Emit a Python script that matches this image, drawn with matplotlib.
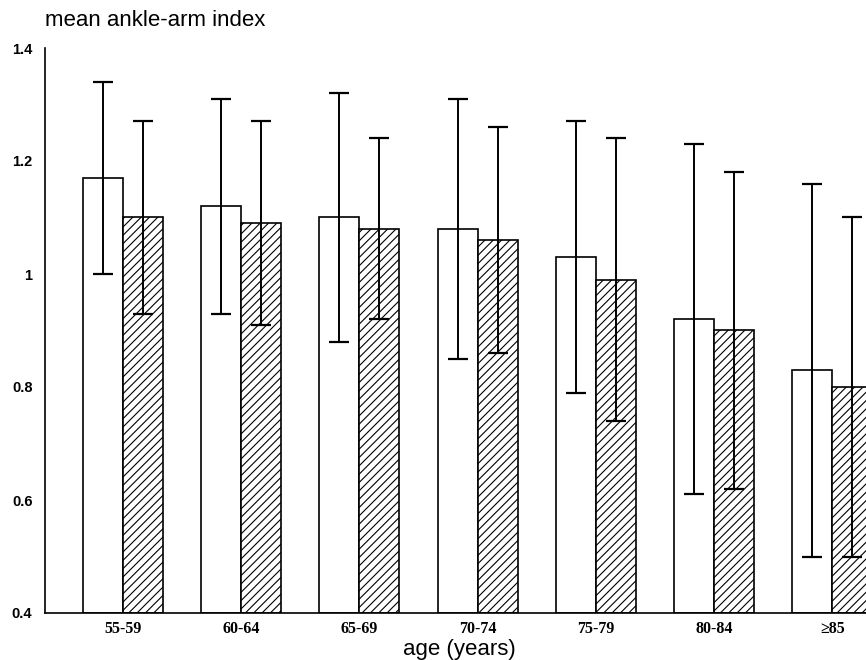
import numpy as np
from matplotlib import pyplot as plt

age_groups = ['55-59', '60-64', '65-69', '70-74', '75-79', '80-84', '\u226585']

# open bars
open_mean = [1.17, 1.12, 1.10, 1.08, 1.03, 0.92, 0.83]
open_low = [1.00, 0.93, 0.88, 0.85, 0.79, 0.61, 0.50]
open_high = [1.34, 1.31, 1.32, 1.31, 1.27, 1.23, 1.16]

# hatched bars
hatch_mean = [1.10, 1.09, 1.08, 1.06, 0.99, 0.90, 0.80]
hatch_low = [0.93, 0.91, 0.92, 0.86, 0.74, 0.62, 0.50]
hatch_high = [1.27, 1.27, 1.24, 1.26, 1.24, 1.18, 1.10]

y_ticks = [0.4, 0.6, 0.8, 1.0, 1.2, 1.4]
y_tick_labels = ['0.4', '0.6', '0.8', '1', '1.2', '1.4']

plt.rcParams['hatch.linewidth'] = 0.8

fig = plt.figure(figsize=(8.66, 6.6), dpi=100)
ax = fig.add_axes([45 / 866, 47 / 660, 1 - 45 / 866, 565 / 660])

x = np.arange(len(age_groups))
width = 0.338
base = 0.4


def draw_bars(xpos, mean, low, high, hatch):
    mean = np.array(mean)
    ax.bar(xpos, mean - base, width, bottom=base, color='white',
           edgecolor='black', linewidth=1.2, hatch=hatch, zorder=2)
    err = [mean - np.array(low), np.array(high) - mean]
    ax.errorbar(xpos, mean, yerr=err, fmt='none', ecolor='black',
                elinewidth=1.4, capsize=7, capthick=1.6, zorder=3)


draw_bars(x - width / 2, open_mean, open_low, open_high, None)
draw_bars(x + width / 2, hatch_mean, hatch_low, hatch_high, '////')

ax.set_xlim(-0.66, 6.286)
ax.set_ylim(0.4, 1.4)
ax.set_yticks(y_ticks)
ax.set_yticklabels(y_tick_labels, fontfamily='Liberation Sans',
                   fontweight='bold', fontsize=10.5)
ax.set_xticks(x)
ax.set_xticklabels(age_groups, fontfamily='Liberation Serif',
                   fontweight='bold', fontsize=11.5)
ax.tick_params(axis='both', length=0)
ax.tick_params(axis='y', pad=9)
ax.tick_params(axis='x', pad=6)

for side in ['top', 'right']:
    ax.spines[side].set_visible(False)
for side in ['left', 'bottom']:
    ax.spines[side].set_linewidth(1.2)

fig.text(459 / 866, 1 - 650 / 660, 'age (years)', fontfamily='Liberation Sans',
         fontsize=16, ha='center', va='center')
fig.text(45 / 866, 1 - 20 / 660, 'mean ankle-arm index',
         fontfamily='Liberation Sans', fontsize=16, ha='left', va='center')

fig.savefig('out.png', dpi=100)
